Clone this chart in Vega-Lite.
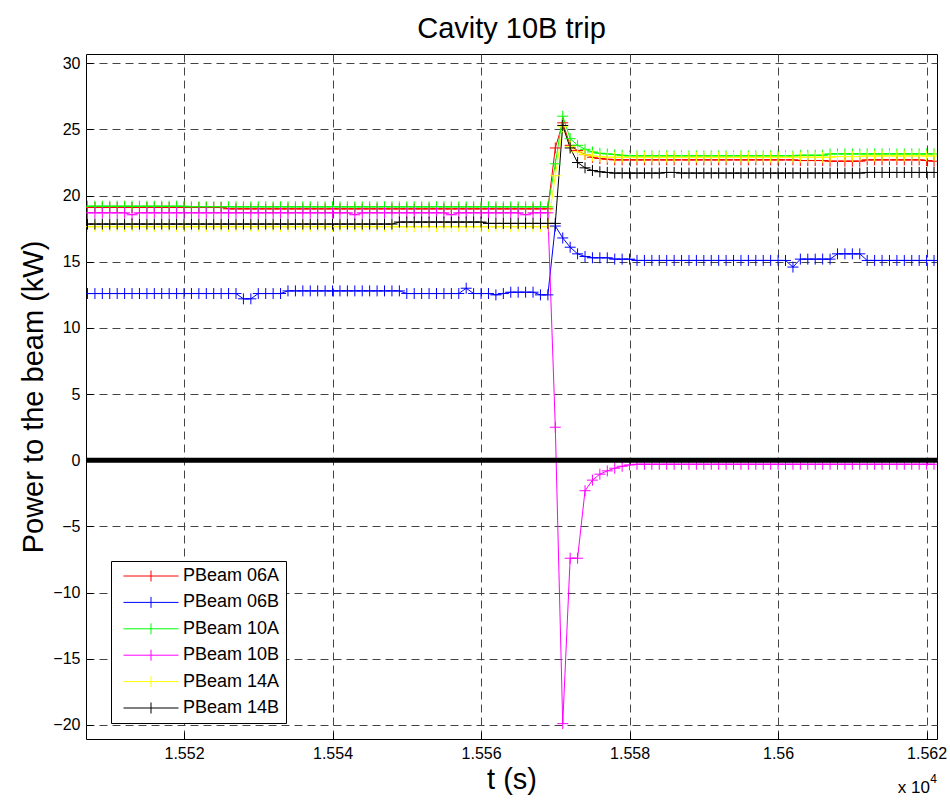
{
  "$schema": "https://vega.github.io/schema/vega-lite/v6.json",
  "width": 851,
  "height": 685,
  "autosize": {"type": "none"},
  "padding": {"left": 86, "top": 54, "right": 13, "bottom": 63},
  "background": "white",
  "title": {"text": "Cavity 10B trip", "fontSize": 29, "font": "Liberation Sans", "fontWeight": "normal", "color": "black", "offset": 10},
  "config": {
    "font": "Liberation Sans",
    "view": {"stroke": "black", "strokeWidth": 1},
    "axis": {
      "domain": false,
      "grid": true,
      "gridDash": [8, 5],
      "gridColor": "#444444",
      "gridOpacity": 1,
      "gridWidth": 1,
      "ticks": true,
      "tickSize": -7,
      "tickColor": "black",
      "labelPadding": 13,
      "labelFont": "Liberation Sans",
      "labelFontSize": 16,
      "labelColor": "black",
      "titleFont": "Liberation Sans",
      "titleFontSize": 29,
      "titleFontWeight": "normal",
      "titleColor": "black"
    }
  },
  "layer": [
    {
      "data": {"values": [
        {"t":15507,"06A":19.1,"06B":12.6,"10A":19.2,"10B":18.7,"14A":17.65,"14B":17.85},
        {"t":15508,"06A":19.1,"06B":12.6,"10A":19.2,"10B":18.7,"14A":17.65,"14B":17.85},
        {"t":15509,"06A":19.1,"06B":12.6,"10A":19.2,"10B":18.7,"14A":17.65,"14B":17.85},
        {"t":15510,"06A":19.1,"06B":12.6,"10A":19.2,"10B":18.7,"14A":17.65,"14B":17.85},
        {"t":15511,"06A":19.1,"06B":12.6,"10A":19.2,"10B":18.7,"14A":17.65,"14B":17.85},
        {"t":15512,"06A":19.1,"06B":12.6,"10A":19.2,"10B":18.7,"14A":17.65,"14B":17.85},
        {"t":15513,"06A":19.1,"06B":12.6,"10A":19.2,"10B":18.55,"14A":17.65,"14B":17.85},
        {"t":15514,"06A":19.1,"06B":12.6,"10A":19.2,"10B":18.7,"14A":17.65,"14B":17.85},
        {"t":15515,"06A":19.1,"06B":12.6,"10A":19.2,"10B":18.7,"14A":17.65,"14B":17.85},
        {"t":15516,"06A":19.1,"06B":12.6,"10A":19.2,"10B":18.7,"14A":17.65,"14B":17.85},
        {"t":15517,"06A":19.1,"06B":12.6,"10A":19.2,"10B":18.7,"14A":17.65,"14B":17.85},
        {"t":15518,"06A":19.1,"06B":12.6,"10A":19.2,"10B":18.7,"14A":17.65,"14B":17.85},
        {"t":15519,"06A":19.1,"06B":12.6,"10A":19.2,"10B":18.7,"14A":17.65,"14B":17.85},
        {"t":15520,"06A":19.1,"06B":12.6,"10A":19.2,"10B":18.7,"14A":17.65,"14B":17.85},
        {"t":15521,"06A":19.1,"06B":12.6,"10A":19.15,"10B":18.7,"14A":17.65,"14B":17.85},
        {"t":15522,"06A":19.1,"06B":12.6,"10A":19.15,"10B":18.7,"14A":17.65,"14B":17.85},
        {"t":15523,"06A":19.1,"06B":12.6,"10A":19.15,"10B":18.7,"14A":17.65,"14B":17.85},
        {"t":15524,"06A":19.1,"06B":12.6,"10A":19.15,"10B":18.7,"14A":17.65,"14B":17.85},
        {"t":15525,"06A":19.1,"06B":12.6,"10A":19.15,"10B":18.7,"14A":17.65,"14B":17.85},
        {"t":15526,"06A":19.0,"06B":12.6,"10A":19.15,"10B":18.7,"14A":17.65,"14B":17.85},
        {"t":15527,"06A":19.0,"06B":12.6,"10A":19.15,"10B":18.7,"14A":17.65,"14B":17.85},
        {"t":15528,"06A":19.0,"06B":12.2,"10A":19.15,"10B":18.7,"14A":17.65,"14B":17.85},
        {"t":15529,"06A":19.0,"06B":12.2,"10A":19.15,"10B":18.7,"14A":17.65,"14B":17.85},
        {"t":15530,"06A":19.0,"06B":12.6,"10A":19.15,"10B":18.7,"14A":17.65,"14B":17.85},
        {"t":15531,"06A":19.0,"06B":12.6,"10A":19.15,"10B":18.7,"14A":17.65,"14B":17.85},
        {"t":15532,"06A":19.0,"06B":12.6,"10A":19.15,"10B":18.7,"14A":17.65,"14B":17.85},
        {"t":15533,"06A":19.0,"06B":12.6,"10A":19.15,"10B":18.7,"14A":17.65,"14B":17.85},
        {"t":15534,"06A":19.0,"06B":12.8,"10A":19.15,"10B":18.7,"14A":17.65,"14B":17.85},
        {"t":15535,"06A":19.0,"06B":12.8,"10A":19.15,"10B":18.7,"14A":17.65,"14B":17.85},
        {"t":15536,"06A":19.0,"06B":12.8,"10A":19.15,"10B":18.7,"14A":17.65,"14B":17.85},
        {"t":15537,"06A":19.0,"06B":12.8,"10A":19.15,"10B":18.7,"14A":17.65,"14B":17.85},
        {"t":15538,"06A":19.0,"06B":12.8,"10A":19.15,"10B":18.7,"14A":17.65,"14B":17.85},
        {"t":15539,"06A":19.0,"06B":12.8,"10A":19.15,"10B":18.7,"14A":17.65,"14B":17.85},
        {"t":15540,"06A":19.0,"06B":12.8,"10A":19.15,"10B":18.7,"14A":17.65,"14B":17.85},
        {"t":15541,"06A":19.0,"06B":12.8,"10A":19.15,"10B":18.7,"14A":17.65,"14B":17.85},
        {"t":15542,"06A":19.0,"06B":12.8,"10A":19.15,"10B":18.7,"14A":17.65,"14B":17.85},
        {"t":15543,"06A":19.0,"06B":12.8,"10A":19.15,"10B":18.55,"14A":17.65,"14B":17.85},
        {"t":15544,"06A":19.0,"06B":12.8,"10A":19.15,"10B":18.7,"14A":17.65,"14B":17.85},
        {"t":15545,"06A":19.0,"06B":12.8,"10A":19.15,"10B":18.7,"14A":17.65,"14B":17.85},
        {"t":15546,"06A":19.0,"06B":12.8,"10A":19.15,"10B":18.7,"14A":17.65,"14B":17.85},
        {"t":15547,"06A":19.0,"06B":12.8,"10A":19.15,"10B":18.7,"14A":17.65,"14B":17.85},
        {"t":15548,"06A":19.0,"06B":12.8,"10A":19.15,"10B":18.7,"14A":17.65,"14B":17.85},
        {"t":15549,"06A":19.0,"06B":12.8,"10A":19.15,"10B":18.7,"14A":17.65,"14B":18.0},
        {"t":15550,"06A":19.0,"06B":12.6,"10A":19.15,"10B":18.7,"14A":17.65,"14B":18.0},
        {"t":15551,"06A":19.0,"06B":12.6,"10A":19.15,"10B":18.7,"14A":17.65,"14B":18.0},
        {"t":15552,"06A":19.0,"06B":12.6,"10A":19.15,"10B":18.7,"14A":17.65,"14B":18.0},
        {"t":15553,"06A":19.0,"06B":12.6,"10A":19.15,"10B":18.7,"14A":17.65,"14B":18.0},
        {"t":15554,"06A":19.0,"06B":12.6,"10A":19.15,"10B":18.7,"14A":17.65,"14B":18.0},
        {"t":15555,"06A":19.0,"06B":12.6,"10A":19.15,"10B":18.7,"14A":17.65,"14B":18.0},
        {"t":15556,"06A":19.0,"06B":12.6,"10A":19.15,"10B":18.55,"14A":17.65,"14B":18.0},
        {"t":15557,"06A":19.0,"06B":12.6,"10A":19.15,"10B":18.7,"14A":17.65,"14B":18.0},
        {"t":15558,"06A":19.0,"06B":13.0,"10A":19.15,"10B":18.7,"14A":17.65,"14B":18.0},
        {"t":15559,"06A":19.0,"06B":12.6,"10A":19.15,"10B":18.7,"14A":17.65,"14B":18.0},
        {"t":15560,"06A":19.0,"06B":12.6,"10A":19.15,"10B":18.7,"14A":17.65,"14B":18.0},
        {"t":15561,"06A":19.0,"06B":12.6,"10A":19.15,"10B":18.7,"14A":17.65,"14B":17.9},
        {"t":15562,"06A":19.0,"06B":12.5,"10A":19.15,"10B":18.7,"14A":17.65,"14B":17.9},
        {"t":15563,"06A":19.0,"06B":12.6,"10A":19.15,"10B":18.7,"14A":17.65,"14B":17.9},
        {"t":15564,"06A":19.0,"06B":12.7,"10A":19.15,"10B":18.7,"14A":17.65,"14B":17.9},
        {"t":15565,"06A":19.0,"06B":12.7,"10A":19.15,"10B":18.7,"14A":17.65,"14B":17.9},
        {"t":15566,"06A":19.0,"06B":12.7,"10A":19.15,"10B":18.55,"14A":17.65,"14B":17.9},
        {"t":15567,"06A":19.0,"06B":12.7,"10A":19.15,"10B":18.7,"14A":17.65,"14B":17.9},
        {"t":15568,"06A":19.0,"06B":12.5,"10A":19.15,"10B":18.7,"14A":17.65,"14B":17.9},
        {"t":15569,"06A":19.0,"06B":12.5,"10A":19.15,"10B":18.7,"14A":17.65,"14B":17.9},
        {"t":15570,"06A":23.6,"06B":17.7,"10A":22.4,"10B":2.5,"14A":21.5,"14B":17.9},
        {"t":15571,"06A":25.5,"06B":16.8,"10A":26.0,"10B":-19.9,"14A":25.2,"14B":25.3},
        {"t":15572,"06A":23.8,"06B":16.1,"10A":24.3,"10B":-7.4,"14A":23.7,"14B":23.6},
        {"t":15573,"06A":23.4,"06B":15.6,"10A":23.8,"10B":-7.4,"14A":23.3,"14B":22.5},
        {"t":15574,"06A":23.1,"06B":15.4,"10A":23.5,"10B":-2.3,"14A":23.1,"14B":22.1},
        {"t":15575,"06A":22.9,"06B":15.3,"10A":23.3,"10B":-1.5,"14A":23.0,"14B":21.9},
        {"t":15576,"06A":22.8,"06B":15.3,"10A":23.2,"10B":-1.05,"14A":22.95,"14B":21.8},
        {"t":15577,"06A":22.75,"06B":15.3,"10A":23.15,"10B":-0.8,"14A":22.9,"14B":21.75},
        {"t":15578,"06A":22.7,"06B":15.2,"10A":23.1,"10B":-0.6,"14A":22.9,"14B":21.7},
        {"t":15579,"06A":22.7,"06B":15.2,"10A":23.05,"10B":-0.45,"14A":22.9,"14B":21.7},
        {"t":15580,"06A":22.7,"06B":15.2,"10A":23.0,"10B":-0.35,"14A":22.9,"14B":21.7},
        {"t":15581,"06A":22.7,"06B":15.1,"10A":23.0,"10B":-0.3,"14A":22.9,"14B":21.7},
        {"t":15582,"06A":22.7,"06B":15.1,"10A":23.0,"10B":-0.3,"14A":22.9,"14B":21.7},
        {"t":15583,"06A":22.7,"06B":15.1,"10A":23.0,"10B":-0.3,"14A":22.9,"14B":21.7},
        {"t":15584,"06A":22.7,"06B":15.1,"10A":23.0,"10B":-0.3,"14A":22.9,"14B":21.7},
        {"t":15585,"06A":22.7,"06B":15.1,"10A":23.0,"10B":-0.3,"14A":22.9,"14B":21.75},
        {"t":15586,"06A":22.7,"06B":15.1,"10A":23.0,"10B":-0.3,"14A":22.9,"14B":21.75},
        {"t":15587,"06A":22.7,"06B":15.1,"10A":23.0,"10B":-0.3,"14A":22.9,"14B":21.7},
        {"t":15588,"06A":22.7,"06B":15.1,"10A":23.0,"10B":-0.3,"14A":22.9,"14B":21.7},
        {"t":15589,"06A":22.7,"06B":15.1,"10A":23.0,"10B":-0.3,"14A":22.9,"14B":21.7},
        {"t":15590,"06A":22.7,"06B":15.1,"10A":23.0,"10B":-0.3,"14A":22.9,"14B":21.7},
        {"t":15591,"06A":22.7,"06B":15.1,"10A":23.0,"10B":-0.3,"14A":22.9,"14B":21.7},
        {"t":15592,"06A":22.7,"06B":15.1,"10A":23.0,"10B":-0.3,"14A":22.9,"14B":21.7},
        {"t":15593,"06A":22.7,"06B":15.1,"10A":23.0,"10B":-0.3,"14A":22.9,"14B":21.7},
        {"t":15594,"06A":22.7,"06B":15.1,"10A":23.0,"10B":-0.3,"14A":22.9,"14B":21.7},
        {"t":15595,"06A":22.7,"06B":15.1,"10A":23.0,"10B":-0.3,"14A":22.9,"14B":21.7},
        {"t":15596,"06A":22.7,"06B":15.1,"10A":23.0,"10B":-0.3,"14A":22.9,"14B":21.7},
        {"t":15597,"06A":22.7,"06B":15.1,"10A":23.0,"10B":-0.3,"14A":22.9,"14B":21.7},
        {"t":15598,"06A":22.7,"06B":15.1,"10A":23.0,"10B":-0.3,"14A":22.9,"14B":21.7},
        {"t":15599,"06A":22.7,"06B":15.1,"10A":23.0,"10B":-0.3,"14A":22.9,"14B":21.7},
        {"t":15600,"06A":22.7,"06B":15.1,"10A":23.0,"10B":-0.3,"14A":22.9,"14B":21.7},
        {"t":15601,"06A":22.7,"06B":15.1,"10A":23.0,"10B":-0.3,"14A":22.9,"14B":21.7},
        {"t":15602,"06A":22.7,"06B":14.6,"10A":23.0,"10B":-0.3,"14A":22.9,"14B":21.7},
        {"t":15603,"06A":22.65,"06B":15.2,"10A":23.05,"10B":-0.3,"14A":22.9,"14B":21.7},
        {"t":15604,"06A":22.65,"06B":15.2,"10A":23.05,"10B":-0.3,"14A":22.9,"14B":21.7},
        {"t":15605,"06A":22.65,"06B":15.2,"10A":23.05,"10B":-0.3,"14A":22.9,"14B":21.7},
        {"t":15606,"06A":22.65,"06B":15.2,"10A":23.05,"10B":-0.3,"14A":22.9,"14B":21.7},
        {"t":15607,"06A":22.6,"06B":15.2,"10A":23.15,"10B":-0.3,"14A":22.9,"14B":21.7},
        {"t":15608,"06A":22.6,"06B":15.6,"10A":23.15,"10B":-0.3,"14A":22.95,"14B":21.7},
        {"t":15609,"06A":22.6,"06B":15.6,"10A":23.15,"10B":-0.3,"14A":22.95,"14B":21.7},
        {"t":15610,"06A":22.6,"06B":15.6,"10A":23.15,"10B":-0.3,"14A":22.95,"14B":21.7},
        {"t":15611,"06A":22.6,"06B":15.6,"10A":23.15,"10B":-0.3,"14A":22.95,"14B":21.7},
        {"t":15612,"06A":22.7,"06B":15.1,"10A":23.15,"10B":-0.3,"14A":23.0,"14B":21.75},
        {"t":15613,"06A":22.7,"06B":15.1,"10A":23.15,"10B":-0.3,"14A":23.0,"14B":21.75},
        {"t":15614,"06A":22.7,"06B":15.1,"10A":23.15,"10B":-0.3,"14A":23.0,"14B":21.75},
        {"t":15615,"06A":22.7,"06B":15.1,"10A":23.15,"10B":-0.3,"14A":23.0,"14B":21.75},
        {"t":15616,"06A":22.7,"06B":15.1,"10A":23.15,"10B":-0.3,"14A":23.0,"14B":21.75},
        {"t":15617,"06A":22.7,"06B":15.1,"10A":23.15,"10B":-0.3,"14A":23.0,"14B":21.75},
        {"t":15618,"06A":22.7,"06B":15.1,"10A":23.15,"10B":-0.3,"14A":23.0,"14B":21.75},
        {"t":15619,"06A":22.7,"06B":15.1,"10A":23.15,"10B":-0.3,"14A":23.0,"14B":21.75},
        {"t":15620,"06A":22.65,"06B":15.1,"10A":23.15,"10B":-0.3,"14A":23.0,"14B":21.75},
        {"t":15621,"06A":22.6,"06B":15.1,"10A":23.15,"10B":-0.3,"14A":23.0,"14B":21.75}
      ]},
      "transform": [{"fold": ["06A", "06B", "10A", "10B", "14A", "14B"], "as": ["series", "value"]}],
      "encoding": {
        "x": {"field": "t", "type": "quantitative", "title": "t (s)",
          "scale": {"domain": [15506.8, 15621.4], "nice": false, "zero": false},
          "axis": {"values": [15520, 15540, 15560, 15580, 15600, 15620], "labelExpr": "format(datum.value / 10000, '.4~f')"}},
        "y": {"field": "value", "type": "quantitative", "title": "Power to the beam (kW)",
          "scale": {"domain": [-21.06, 30.7], "nice": false, "zero": false},
          "axis": {"values": [-20, -15, -10, -5, 0, 5, 10, 15, 20, 25, 30]}},
        "color": {"field": "series", "type": "nominal",
          "scale": {"domain": ["06A", "06B", "10A", "10B", "14A", "14B"], "range": ["#ff0000", "#0000ff", "#00ff00", "#ff00ff", "#ffff00", "#000000"]},
          "legend": {"title": null, "orient": "none", "legendX": 25, "legendY": 507, "labelExpr": "'PBeam ' + datum.label",
            "strokeColor": "black", "fillColor": "white", "padding": 6, "cornerRadius": 0,
            "labelFontSize": 18, "labelColor": "black", "labelFont": "Liberation Sans",
            "symbolType": "M-5,0L5,0M0,-1L0,1", "symbolSize": 121, "symbolStrokeWidth": 1,
            "symbolOffset": 25, "labelOffset": 23, "rowPadding": 8.4}}
      },
      "layer": [
        {"mark": {"type": "line", "strokeWidth": 1, "clip": true}},
        {"mark": {"type": "point", "shape": "M-1,0L1,0M0,-1L0,1", "size": 121, "filled": false, "strokeWidth": 1, "opacity": 1, "clip": true}}
      ]
    },
    {
      "data": {"values": [{"z": 0}]},
      "mark": {"type": "rule", "color": "black", "strokeWidth": 5},
      "encoding": {"y": {"field": "z", "type": "quantitative", "title": "Power to the beam (kW)"}}
    },
    {
      "data": {"values": [{"label": "x 10"}]},
      "mark": {"type": "text", "align": "right", "baseline": "alphabetic", "fontSize": 17, "font": "Liberation Sans", "color": "black", "dy": 54, "dx": -7},
      "encoding": {
        "x": {"datum": 15621.4, "type": "quantitative", "title": "t (s)"},
        "y": {"datum": -21.06, "type": "quantitative", "title": "Power to the beam (kW)"},
        "text": {"field": "label", "type": "nominal"}
      }
    },
    {
      "data": {"values": [{"label": "4"}]},
      "mark": {"type": "text", "align": "right", "baseline": "alphabetic", "fontSize": 12, "font": "Liberation Sans", "color": "black", "dy": 44, "dx": 0},
      "encoding": {
        "x": {"datum": 15621.4, "type": "quantitative", "title": "t (s)"},
        "y": {"datum": -21.06, "type": "quantitative", "title": "Power to the beam (kW)"},
        "text": {"field": "label", "type": "nominal"}
      }
    }
  ]
}
